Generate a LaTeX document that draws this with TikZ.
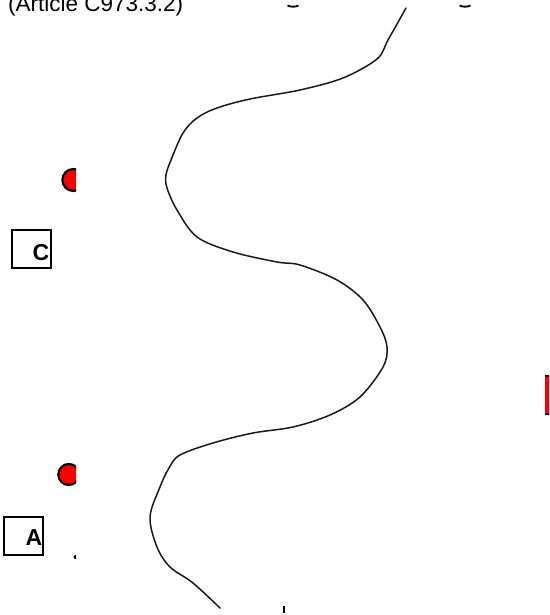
\documentclass[tikz,border=0pt]{standalone}
\usepackage{fontspec}
\setmainfont{Liberation Sans}
\begin{document}
\begin{tikzpicture}[x=1pt,y=1pt,
  boxlbl/.style={draw=black, line width=1.4pt, minimum width=39pt, minimum height=38pt,
    inner sep=0pt},
  lblfont/.style={anchor=east, inner sep=0pt, font=\fontsize{23}{23}\selectfont\bfseries},
  reddot/.style={fill=red, draw=black, line width=2.2pt},
  wave/.style={draw=black!90, line width=1.5pt, line join=round, line cap=round}]
\useasboundingbox (0,0) rectangle (549,615);
\clip (0,0) rectangle (549,615);

% title text (clipped at top)
\node[anchor=base west, inner sep=0pt, font=\fontsize{22.5}{22.5}\selectfont] (title) at (8,603) {(Article C973.3.2)};

% wavy line
\draw[wave] plot[smooth, tension=0.55] coordinates {
(406,607) (388,575) (377,556) (343,537) (300,525) (250,516) (217,507) (197,497)
(183,482) (171,455) (166,440) (167,427) (177,405) (197,378) (233,363) (277,353)
(300,350) (337,335) (363,315) (380,288) (387,268) (383,248) (360,218) (330,200)
(293,188) (253,182) (213,172) (180,160) (169,147) (160,128) (150,98) (157,68)
(170,48) (193,32) (220,7)};

% arcs peeking at the top
\draw[line width=1.8pt] (287.5,609.5) arc[start angle=245, end angle=295, radius=13];
\draw[line width=1.8pt] (459.5,609.5) arc[start angle=245, end angle=295, radius=13];

% red dots clipped at x=76
\begin{scope}
\clip (0,0) rectangle (76,615);
\node[circle, reddot, minimum size=22pt, inner sep=0pt] (dotC) at (73.4,435) {};
\node[circle, reddot, minimum size=21pt, inner sep=0pt] (dotA) at (68.8,140.5) {};
\fill[black] (75.5,58) circle[radius=2];
\end{scope}

% boxes
\node[boxlbl] (boxC) at (31.5,366) {};
\node[lblfont] (lblC) at (49.5,362.5) {C};
\node[boxlbl] (boxA) at (23.5,79) {};
\node[lblfont] (lblA) at (42.5,77.5) {A};

% red element at right edge
\fill[red] (545,200) rectangle (552,240);
\draw[line width=2pt] (545,239) -- (552,239);
\draw[line width=2pt] (545,201) -- (552,201);

% small tick at the bottom
\draw[line width=1.5pt] (284,2) -- (284,9);
\end{tikzpicture}
\end{document}
